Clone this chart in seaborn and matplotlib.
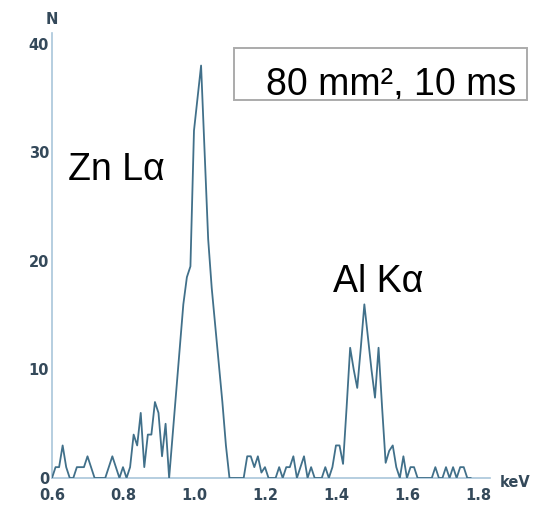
import numpy as np
import pandas as pd
import matplotlib
matplotlib.use("Agg")
import matplotlib.pyplot as plt
from matplotlib.patches import Rectangle
import seaborn as sns

# ---- data ----
energy_kev = [
    0.60, 0.61, 0.62, 0.63, 0.64, 0.65, 0.66, 0.67, 0.68, 0.69,
    0.70, 0.71, 0.72, 0.73, 0.74, 0.75, 0.76, 0.77, 0.78, 0.79,
    0.80, 0.81, 0.82, 0.83, 0.84, 0.85, 0.86, 0.87, 0.88, 0.89,
    0.90, 0.91, 0.92, 0.93, 0.94, 0.95, 0.96, 0.97, 0.98, 0.99,
    1.00, 1.01, 1.02, 1.03, 1.04, 1.05, 1.06, 1.07, 1.08, 1.09,
    1.10, 1.11, 1.12, 1.13, 1.14, 1.15, 1.16, 1.17, 1.18, 1.19,
    1.20, 1.21, 1.22, 1.23, 1.24, 1.25, 1.26, 1.27, 1.28, 1.29,
    1.30, 1.31, 1.32, 1.33, 1.34, 1.35, 1.36, 1.37, 1.38, 1.39,
    1.40, 1.41, 1.42, 1.43, 1.44, 1.45, 1.46, 1.47, 1.48, 1.49,
    1.50, 1.51, 1.52, 1.53, 1.54, 1.55, 1.56, 1.57, 1.58, 1.59,
    1.60, 1.61, 1.62, 1.63, 1.64, 1.65, 1.66, 1.67, 1.68, 1.69,
    1.70, 1.71, 1.72, 1.73, 1.74, 1.75, 1.76, 1.77, 1.78,
]
counts = [
    0, 1, 1, 3, 1, 0, 0, 1, 1, 1,
    2, 1, 0, 0, 0, 0, 1, 2, 1, 0,
    1, 0, 1, 4, 3, 6, 1, 4, 4, 7,
    6, 2, 5, 0, 4, 8, 12, 16, 18.5, 19.5,
    32, 35, 38, 30, 22, 17.5, 14, 10.5, 7, 3,
    0, 0, 0, 0, 0, 2, 2, 1, 2, 0.5,
    1, 0, 0, 0, 1, 0, 1, 1, 2, 0,
    1, 2, 0, 1, 0, 0, 0, 1, 0, 1,
    3, 3, 1.3, 6.5, 12, 10, 8.3, 12, 16, 13,
    10, 7.4, 12, 6.5, 1.4, 2.5, 3, 1, 0, 2,
    0, 1, 1, 0, 0, 0, 0, 0, 1, 0,
    0, 1, 0, 1, 0, 1, 1, 0, 0,
]
x_ticks = [0.6, 0.8, 1.0, 1.2, 1.4, 1.6, 1.8]
x_tick_labels = ["0.6", "0.8", "1.0", "1.2", "1.4", "1.6", "1.8"]
y_ticks = [0, 10, 20, 30, 40]
y_tick_labels = ["0", "10", "20", "30", "40"]
peak_labels = ["Zn L\u03b1", "Al K\u03b1"]
box_label = "80 mm\u00b2, 10 ms"

df = pd.DataFrame({"energy": energy_kev, "counts": counts})

# ---- figure ----
sns.set_style("white")
plt.rcParams["font.family"] = ["DejaVu Sans"]

W, H = 534, 505
fig = plt.figure(figsize=(W / 100, H / 100), dpi=100)
ax = fig.add_axes([52 / W, 27 / H, (490 - 52) / W, (478 - 33) / H])

line_color = "#41708a"
axis_color = "#a9c6da"
tick_color = "#34495a"

sns.lineplot(data=df, x="energy", y="counts", ax=ax, color=line_color,
             linewidth=1.3, estimator=None, zorder=3)

ax.set_xlim(0.6, 1.834)
ax.set_ylim(0, 41)
ax.set_xticks(x_ticks)
ax.set_xticklabels(x_tick_labels)
ax.set_yticks(y_ticks)
ax.set_yticklabels(y_tick_labels)
ax.set_xlabel("")
ax.set_ylabel("")

for s in ["top", "right"]:
    ax.spines[s].set_visible(False)
for s in ["left", "bottom"]:
    ax.spines[s].set_color(axis_color)
    ax.spines[s].set_linewidth(1.2)

ax.tick_params(axis="x", length=0, pad=7, labelsize=10.5, labelcolor=tick_color)
ax.tick_params(axis="y", length=0, pad=2, labelsize=10.5, labelcolor=tick_color)
for lab in ax.get_xticklabels() + ax.get_yticklabels():
    lab.set_fontweight("bold")

# axis unit labels
ax.text(0.6, 42.2, "N", ha="center", va="center", fontsize=10.5,
        fontweight="bold", color=tick_color, clip_on=False)
ax.text(1.904, -0.4, "keV", ha="center", va="center", fontsize=10.5,
        fontweight="bold", color=tick_color, clip_on=False)

# peak annotations
big = dict(fontsize=27, family=["Liberation Sans", "DejaVu Sans"], color="black")
ax.text(0.645, 27.5, peak_labels[0], ha="left", va="baseline", **big)
ax.text(1.3915, 17.1, peak_labels[1], ha="left", va="baseline", **big)

# boxed label
fig.patches.append(Rectangle((234 / W, 1 - 100 / H), (527 - 234) / W, 52 / H,
                             transform=fig.transFigure, fill=False,
                             edgecolor="#ababab", linewidth=1.4))
ax.text(1.555, 35.3, box_label, ha="center", va="baseline", **big)

fig.savefig("out.png", dpi=100, facecolor="white")
